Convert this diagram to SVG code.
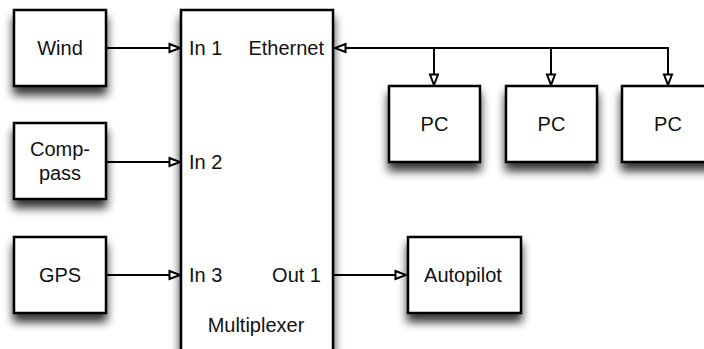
<svg xmlns="http://www.w3.org/2000/svg" width="704" height="349" viewBox="0 0 704 349">
<defs>
<filter id="sh" x="-30%" y="-30%" width="160%" height="180%">
<feGaussianBlur in="SourceAlpha" stdDeviation="5"/>
<feOffset dx="0" dy="8" result="b"/>
<feComponentTransfer in="b" result="c"><feFuncA type="linear" slope="0.8"/></feComponentTransfer>
<feMerge><feMergeNode in="c"/><feMergeNode in="SourceGraphic"/></feMerge>
</filter>
<marker id="ah" markerUnits="userSpaceOnUse" markerWidth="14" markerHeight="12" viewBox="0 0 14 12" refX="12" refY="6" orient="auto">
<path d="M1.5,2 L12,6 L1.5,10 Z" fill="#fff" stroke="#000" stroke-width="2" stroke-linejoin="miter"/>
</marker>
</defs>
<style>
.box{fill:#fff;stroke:#000;stroke-width:2.5;filter:url(#sh)}
.t{font-family:"Liberation Sans",Arial,sans-serif;font-size:20px;fill:#111}
.c{fill:none;stroke:#000;stroke-width:2}
</style>
<rect width="704" height="349" fill="#fff"/>
<g id="multiplexer">
<rect class="box" x="181" y="10" width="152" height="360"/>
<text class="t" x="189" y="55">In 1</text>
<text class="t" x="324" y="55" text-anchor="end">Ethernet</text>
<text class="t" x="189" y="169">In 2</text>
<text class="t" x="189" y="282">In 3</text>
<text class="t" x="321" y="282" text-anchor="end">Out 1</text>
<text class="t" x="256" y="332" text-anchor="middle">Multiplexer</text>
</g>
<g id="wind">
<rect class="box" x="14" y="10" width="92" height="76"/>
<text class="t" x="60" y="55" text-anchor="middle">Wind</text>
</g>
<g id="compass">
<rect class="box" x="14" y="123" width="92" height="76"/>
<text class="t" x="60" y="156" text-anchor="middle">Comp-</text>
<text class="t" x="60" y="180" text-anchor="middle">pass</text>
</g>
<g id="gps">
<rect class="box" x="14" y="237" width="92" height="76"/>
<text class="t" x="60" y="282" text-anchor="middle">GPS</text>
</g>
<g id="pc1">
<rect class="box" x="389" y="86" width="91" height="76"/>
<text class="t" x="434.5" y="131" text-anchor="middle">PC</text>
</g>
<g id="pc2">
<rect class="box" x="506" y="86" width="91" height="76"/>
<text class="t" x="551.5" y="131" text-anchor="middle">PC</text>
</g>
<g id="pc3">
<rect class="box" x="622" y="86" width="92" height="76"/>
<text class="t" x="668" y="131" text-anchor="middle">PC</text>
</g>
<g id="autopilot">
<rect class="box" x="408" y="237" width="113" height="76"/>
<text class="t" x="463" y="282" text-anchor="middle">Autopilot</text>
</g>
<g id="connectors">
<path class="c" d="M106,48 L180,48" marker-end="url(#ah)"/>
<path class="c" d="M106,162 L180,162" marker-end="url(#ah)"/>
<path class="c" d="M106,275 L180,275" marker-end="url(#ah)"/>
<path class="c" d="M333,275 L406,275" marker-end="url(#ah)"/>
<path class="c" d="M668,48 L335,48" marker-end="url(#ah)"/>
<path class="c" d="M434,48 L434,85" marker-end="url(#ah)"/>
<path class="c" d="M551,48 L551,85" marker-end="url(#ah)"/>
<path class="c" d="M668,47 L668,85" marker-end="url(#ah)"/>
</g>
</svg>
